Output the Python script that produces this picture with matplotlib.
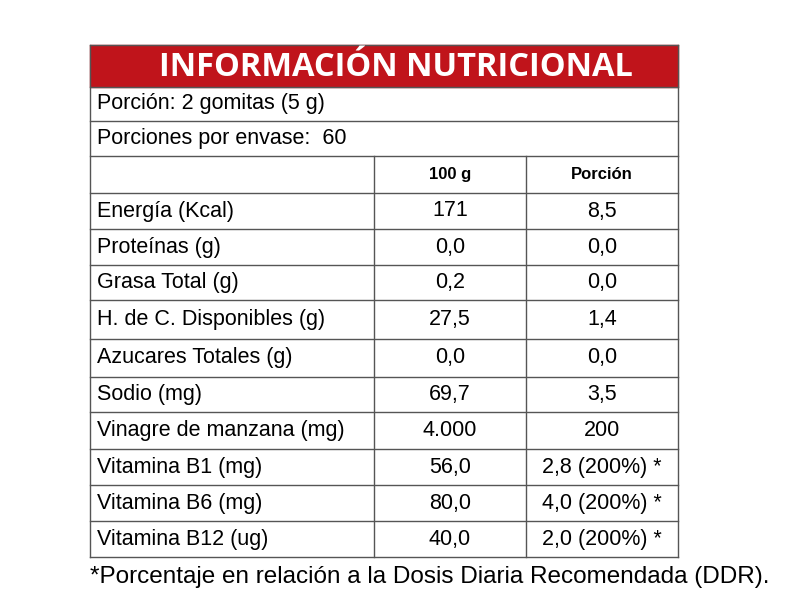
import matplotlib
matplotlib.use('Agg')
import matplotlib.pyplot as plt

title = "INFORMACIÓN NUTRICIONAL"
porcion = "Porción: 2 gomitas (5 g)"
porciones = "Porciones por envase:  60"
col_headers = ["100 g", "Porción"]
nutrients = ["Energía (Kcal)", "Proteínas (g)", "Grasa Total (g)", "H. de C. Disponibles (g)",
             "Azucares Totales (g)", "Sodio (mg)", "Vinagre de manzana (mg)",
             "Vitamina B1 (mg)", "Vitamina B6 (mg)", "Vitamina B12 (ug)"]
per_100g = ["171", "0,0", "0,2", "27,5", "0,0", "69,7", "4.000", "56,0", "80,0", "40,0"]
per_portion = ["8,5", "0,0", "0,0", "1,4", "0,0", "3,5", "200",
               "2,8 (200%) *", "4,0 (200%) *", "2,0 (200%) *"]
footnote = "*Porcentaje en relación a la Dosis Diaria Recomendada (DDR)."

fam = ['Liberation Sans', 'DejaVu Sans']
fig = plt.figure(figsize=(8.07, 6.09), dpi=100)
ax = fig.add_axes([0, 0, 1, 1])
ax.set_xlim(0, 807)
ax.set_ylim(609, 0)
ax.axis('off')

x0, x1, x2, x3 = 90, 374, 526, 678
lc = '#555555'
lw = 1.0

# red title band
ax.add_patch(plt.Rectangle((x0, 45), x3 - x0, 42, color='#c0141b', zorder=1))
ax.text((x0 + x3) / 2 + 12, 67, title, color='white', fontsize=23.5, fontweight='bold',
        ha='center', va='center', family=['Open Sans', 'DejaVu Sans'])

row_tops = [87, 121, 156, 193, 229, 265, 300, 339, 377, 412, 449, 485, 521, 557]
for y in row_tops:
    ax.plot([x0, x3], [y, y], color=lc, lw=lw)
ax.plot([x0, x3], [45, 45], color=lc, lw=lw)
ax.plot([x0, x0], [45, 557], color=lc, lw=lw)
ax.plot([x3, x3], [45, 557], color=lc, lw=lw)
for x in (x1, x2):
    ax.plot([x, x], [156, 557], color=lc, lw=lw)

fs = 15.5
ax.text(x0 + 7, (87 + 121) / 2, porcion, fontsize=fs, va='center', family=fam)
ax.text(x0 + 7, (121 + 156) / 2, porciones, fontsize=fs, va='center', family=fam)
ax.text((x1 + x2) / 2, (156 + 193) / 2, col_headers[0], fontsize=12, fontweight='bold',
        ha='center', va='center', family=fam)
ax.text((x2 + x3) / 2, (156 + 193) / 2, col_headers[1], fontsize=12, fontweight='bold',
        ha='center', va='center', family=fam)

for i, (n, a, b) in enumerate(zip(nutrients, per_100g, per_portion)):
    yc = (row_tops[i + 3] + row_tops[i + 4]) / 2
    ax.text(x0 + 7, yc, n, fontsize=fs, va='center', family=fam)
    ax.text((x1 + x2) / 2, yc, a, fontsize=fs, ha='center', va='center', family=fam)
    ax.text((x2 + x3) / 2, yc, b, fontsize=fs, ha='center', va='center', family=fam)

ax.text(x0, 577, footnote, fontsize=17.5, va='center', family=fam)

fig.savefig('out.png', dpi=100)
